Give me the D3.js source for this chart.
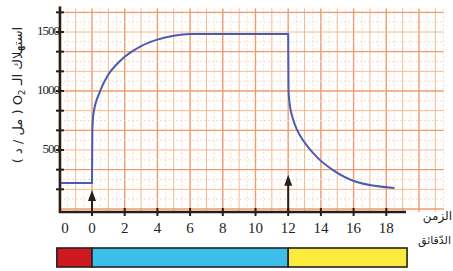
<!DOCTYPE html>
<html><head><meta charset="utf-8">
<script src="https://cdn.jsdelivr.net/npm/d3@7"></script>
<style>body{margin:0;background:#fff}svg{display:block}</style>
</head><body>
<svg id="c" width="453" height="271"></svg>
<script>
// ---- data ----
const times  = [-1.9, 0, 0.02, 0.08, 0.5, 1, 1.5, 2, 3, 4, 5, 6, 12, 12.02, 12.1, 12.3, 12.54, 12.9, 13.76, 14.74, 16.2, 18.5];
const values = [220, 220, 650, 800, 1000, 1140, 1225, 1290, 1380, 1435, 1468, 1484, 1484, 1000, 880, 760, 670, 585, 440, 330, 229, 178];
const xTicks = [0, 2, 4, 6, 8, 10, 12, 14, 16, 18];
const xTickLabels = ["0","2","4","6","8","10","12","14","16","18"];
const yTicks = [500, 1000, 1500];
const phaseStart = [-2.15, 0, 12];
const phaseEnd   = [0, 12, 19.27];
const phaseColor = ["#d01820", "#3cbdea", "#fbeb3c"];
const arrowTimes = [0, 12];
const arrowValues = [160, 290];

const svg = d3.select("#c");
const x = d3.scaleLinear().domain([0, 18]).range([92, 386.3]);
const y = d3.scaleLinear().domain([0, 1500]).range([209, 32]);
const axisY = 212, axisX = x(-1.96);

// grid
const g = svg.append("g");
const tmax = 21.5;
for (let t = -1.5; t <= tmax; t += 0.5) {
  const major = Math.abs(t % 2) < 1e-9, minor = Math.abs(t % 1) < 1e-9;
  g.append("line").attr("x1", x(t)).attr("x2", x(t)).attr("y1", y(1700)).attr("y2", axisY)
    .attr("stroke", major ? "#ef9a6a" : minor ? "#f4b88e" : "#f8dcc4")
    .attr("stroke-width", major ? 1.4 : 1)
    .attr("stroke-dasharray", major || minor ? null : "2,2");
}
for (let k = 0; k <= 20; k++) {
  const v = k * 500 / 6;
  if (y(v) < y(1700)) break;
  const major = k % 4 === 0, minor = k % 2 === 0;
  g.append("line").attr("x1", axisX).attr("x2", x(tmax)).attr("y1", y(v)).attr("y2", y(v))
    .attr("stroke", major ? "#ef9a6a" : minor ? "#f4b88e" : "#f8dcc4")
    .attr("stroke-width", major ? 1.4 : 1)
    .attr("stroke-dasharray", major || minor ? null : "2,2");
}

// axes
const axc = "#2a1d16";
svg.append("line").attr("x1", axisX).attr("x2", axisX).attr("y1", y(1700)-2).attr("y2", axisY+1)
  .attr("stroke", axc).attr("stroke-width", 2.6);
svg.append("line").attr("x1", axisX-1).attr("x2", 406).attr("y1", axisY).attr("y2", axisY)
  .attr("stroke", axc).attr("stroke-width", 2.6);
for (let k = 1; k <= 10; k++) {
  const v = k * 500 / 3;
  svg.append("line").attr("x1", axisX-4).attr("x2", axisX+4).attr("y1", y(v)).attr("y2", y(v))
    .attr("stroke", axc).attr("stroke-width", 2);
}
xTicks.forEach(t => {
  svg.append("line").attr("x1", x(t)).attr("x2", x(t)).attr("y1", axisY-4).attr("y2", axisY+4)
    .attr("stroke", axc).attr("stroke-width", 2);
});

const font = "'Liberation Serif', 'DejaVu Serif', serif";
svg.append("text").attr("x", axisX+5).attr("y", 233).attr("text-anchor", "middle")
  .attr("font-family", font).attr("font-size", 15).attr("fill", "#222").text("0");
xTicks.forEach((t, i) => {
  svg.append("text").attr("x", x(t)).attr("y", 233).attr("text-anchor", "middle")
    .attr("font-family", font).attr("font-size", 15).attr("fill", "#222").text(xTickLabels[i]);
});
yTicks.forEach(v => {
  svg.append("text").attr("x", axisX-1).attr("y", y(v)+3).attr("text-anchor", "end")
    .attr("font-family", font).attr("font-size", 13).attr("letter-spacing", -1).attr("fill", "#222").text(v);
});

// y title
svg.append("text").attr("transform", `translate(22,${95}) rotate(-90)`).attr("text-anchor", "middle")
  .attr("font-family", "'DejaVu Sans', sans-serif").attr("font-size", 13).attr("fill", "#222")
  .attr("direction", "rtl")
  .html("استهلاك الـ O<tspan font-size='9' dy='3'>2</tspan><tspan dy='-3'> ( مل / د )</tspan>");
// x title
svg.append("text").attr("x", 452).attr("y", 220).attr("text-anchor", "end")
  .attr("font-family", "'DejaVu Sans', sans-serif").attr("font-size", 12).attr("fill", "#222").text("الزمن");
svg.append("text").attr("x", 451).attr("y", 244).attr("text-anchor", "end")
  .attr("font-family", "'DejaVu Sans', sans-serif").attr("font-size", 11).attr("fill", "#222").text("الدّقائق");

// curve
const pts = times.map((t, i) => [t, values[i]]);
svg.append("path").datum(pts)
  .attr("d", d3.line().x(d => x(d[0])).y(d => y(d[1])).curve(d3.curveMonotoneX))
  .attr("fill", "none").attr("stroke", "#4a5cb0").attr("stroke-width", 2);

// arrows
arrowTimes.forEach((t, i) => {
  const xt = x(t), yt = y(arrowValues[i]);
  svg.append("line").attr("x1", xt).attr("x2", xt).attr("y1", axisY).attr("y2", yt+8)
    .attr("stroke", axc).attr("stroke-width", 2);
  svg.append("path").attr("d", `M${xt},${yt}L${xt-4},${yt+11}L${xt+4},${yt+11}Z`).attr("fill", axc);
});

// phase bar
phaseStart.forEach((s, i) => {
  svg.append("rect").attr("x", x(s)).attr("y", 248).attr("width", x(phaseEnd[i]) - x(s)).attr("height", 19)
    .attr("fill", phaseColor[i]).attr("stroke", "#222").attr("stroke-width", 1.6);
});
</script>
</body></html>
